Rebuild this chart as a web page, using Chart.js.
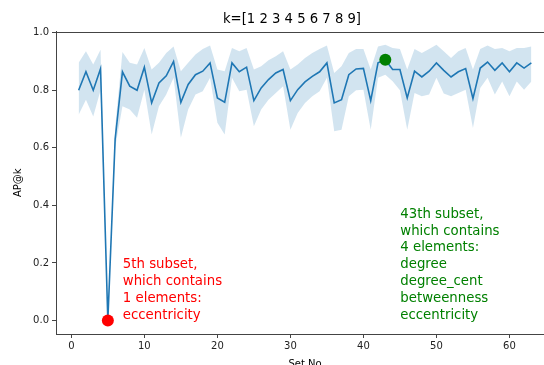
<!DOCTYPE html>
<html>
<head>
<meta charset="utf-8">
<script src="https://cdn.jsdelivr.net/npm/chart.js@4.4.1/dist/chart.umd.min.js"></script>
<style>
    html, body { margin: 0; padding: 0; background: #fff; overflow: hidden; }
    #wrap { width: 584px; height: 372px; }
</style>
</head>
<body>
<div id="wrap"><canvas id="apChart" width="584" height="372"></canvas></div>
<script>
// Subset index on the x axis
const setNo = [1, 2, 3, 4, 5, 6, 7, 8, 9, 10,
    11, 12, 13, 14, 15, 16, 17, 18, 19, 20,
    21, 22, 23, 24, 25, 26, 27, 28, 29, 30,
    31, 32, 33, 34, 35, 36, 37, 38, 39, 40,
    41, 42, 43, 44, 45, 46, 47, 48, 49, 50,
    51, 52, 53, 54, 55, 56, 57, 58, 59, 60,
    61, 62, 63];

// Mean AP@k per subset
const apMean = [0.80, 0.864, 0.80, 0.875, 0.0, 0.63, 0.864, 0.814, 0.80, 0.88,
    0.756, 0.825, 0.85, 0.90, 0.758, 0.82, 0.854, 0.866, 0.895, 0.773,
    0.758, 0.895, 0.864, 0.88, 0.764, 0.808, 0.837, 0.86, 0.872, 0.764,
    0.802, 0.829, 0.848, 0.864, 0.895, 0.756, 0.767, 0.854, 0.874, 0.876,
    0.764, 0.895, 0.906, 0.872, 0.872, 0.773, 0.866, 0.846, 0.866, 0.895,
    0.869, 0.846, 0.864, 0.875, 0.771, 0.877, 0.898, 0.869, 0.895, 0.864,
    0.895, 0.877, 0.895];

// Confidence band (upper / lower)
const apUpper = [0.895, 0.935, 0.889, 0.941, 0.0, 0.67, 0.933, 0.895, 0.889, 0.947,
    0.872, 0.895, 0.929, 0.952, 0.866, 0.895, 0.924, 0.943, 0.955, 0.872,
    0.866, 0.947, 0.935, 0.947, 0.872, 0.883, 0.904, 0.918, 0.935, 0.872,
    0.889, 0.912, 0.929, 0.943, 0.955, 0.86, 0.883, 0.929, 0.943, 0.943,
    0.872, 0.952, 0.958, 0.947, 0.943, 0.872, 0.943, 0.929, 0.943, 0.958,
    0.935, 0.912, 0.935, 0.947, 0.872, 0.943, 0.955, 0.943, 0.947, 0.935,
    0.947, 0.947, 0.952];

const apLower = [0.715, 0.767, 0.709, 0.80, 0.0, 0.60, 0.744, 0.733, 0.704, 0.802,
    0.646, 0.744, 0.785, 0.843, 0.635, 0.733, 0.785, 0.796, 0.843, 0.687,
    0.646, 0.843, 0.796, 0.802, 0.675, 0.733, 0.767, 0.79, 0.814, 0.663,
    0.721, 0.756, 0.779, 0.796, 0.843, 0.657, 0.663, 0.779, 0.80, 0.802,
    0.663, 0.843, 0.854, 0.831, 0.80, 0.663, 0.79, 0.779, 0.785, 0.843,
    0.789, 0.779, 0.79, 0.802, 0.669, 0.808, 0.843, 0.785, 0.83, 0.779,
    0.83, 0.802, 0.83];

const xTicks = [0, 10, 20, 30, 40, 50, 60];
const yTicks = [0.0, 0.2, 0.4, 0.6, 0.8, 1.0];

// Highlighted subsets
const worstSubset = [5, 0.0];
const bestSubset = [43, 0.906];

const chartTitle = 'k=[1 2 3 4 5 6 7 8 9]';
const worstNote = ['5th subset,', 'which contains', '1 elements:', 'eccentricity'];
const bestNote = ['43th subset,', 'which contains', '4 elements:', 'degree',
    'degree_cent', 'betweenness', 'eccentricity'];
const worstNoteAt = [7.05, 0];
const bestNoteAt = [45.05, 0];

const FONT = 'DejaVu Sans, sans-serif';
const toXY = (ys) => setNo.map((x, i) => ({ x: x, y: ys[i] }));

// title, top spine + text annotations
const extrasPlugin = {
    id: 'extras',
    afterDraw(chart) {
        const { ctx, chartArea, scales } = chart;
        ctx.save();
        ctx.strokeStyle = '#444';
        ctx.lineWidth = 1;
        ctx.beginPath();
        ctx.moveTo(chartArea.left, Math.round(chartArea.top) + 0.5);
        ctx.lineTo(chartArea.right, Math.round(chartArea.top) + 0.5);
        ctx.stroke();

        ctx.fillStyle = '#000';
        ctx.font = '13.2px ' + FONT;
        ctx.textAlign = 'center';
        ctx.textBaseline = 'middle';
        ctx.fillText(chartTitle, 292, 20);

        ctx.font = '13.3px ' + FONT;
        ctx.textAlign = 'left';
        const drawNote = (lines, at, color) => {
            const x = scales.x.getPixelForValue(at[0]);
            const yBottom = scales.y.getPixelForValue(at[1]) - 5.3;
            ctx.fillStyle = color;
            lines.forEach((line, i) => {
                ctx.fillText(line, x, yBottom - (lines.length - 1 - i) * 16.8);
            });
        };
        drawNote(worstNote, worstNoteAt, '#ff0000');
        drawNote(bestNote, bestNoteAt, '#008000');
        ctx.restore();
    }
};

function initChart() {
    const ctx = document.getElementById('apChart').getContext('2d');

    const data = {
        datasets: [
            {
                data: [{ x: worstSubset[0], y: worstSubset[1] }],
                backgroundColor: '#ff0000',
                pointRadius: 6,
                pointBorderWidth: 0,
                showLine: false,
                clip: false
            },
            {
                data: [{ x: bestSubset[0], y: bestSubset[1] }],
                backgroundColor: '#008000',
                pointRadius: 6,
                pointBorderWidth: 0,
                showLine: false,
                clip: false
            },
            {
                data: toXY(apMean),
                borderColor: '#1f77b4',
                borderWidth: 1.6,
                pointRadius: 0,
                fill: false
            },
            {
                data: toXY(apLower),
                borderWidth: 0,
                borderColor: 'rgba(0,0,0,0)',
                pointRadius: 0,
                fill: false
            },
            {
                data: toXY(apUpper),
                borderWidth: 0,
                borderColor: 'rgba(0,0,0,0)',
                backgroundColor: 'rgba(31,119,180,0.2)',
                pointRadius: 0,
                fill: 3
            }
        ]
    };

    const config = {
        type: 'line',
        data: data,
        plugins: [extrasPlugin],
        options: {
            responsive: false,
            animation: false,
            layout: { padding: { left: 0, right: 30, top: 31.5, bottom: 0 } },
            plugins: {
                legend: { display: false },
                tooltip: { enabled: false },
                title: { display: false }
            },
            scales: {
                x: {
                    type: 'linear',
                    min: -2.1,
                    max: 66.1,
                    afterFit: (scale) => { scale.height = 38; },
                    afterBuildTicks: (scale) => { scale.ticks = xTicks.map(v => ({ value: v })); },
                    grid: { drawOnChartArea: false, drawTicks: true, tickLength: 4, color: '#444' },
                    border: { display: true, color: '#444', width: 1 },
                    ticks: {
                        color: '#222',
                        padding: 2,
                        maxRotation: 0,
                        font: { family: FONT, size: 10 },
                        callback: (v) => String(v)
                    },
                    title: {
                        display: true,
                        text: 'Set No',
                        color: '#000',
                        font: { family: FONT, size: 10 },
                        padding: { top: 0, bottom: 2 }
                    }
                },
                y: {
                    min: -0.047,
                    max: 1.004,
                    afterFit: (scale) => { scale.width = 56; },
                    afterBuildTicks: (scale) => { scale.ticks = yTicks.map(v => ({ value: v })); },
                    grid: { drawOnChartArea: false, drawTicks: true, tickLength: 4, color: '#444' },
                    border: { display: true, color: '#444', width: 1 },
                    ticks: {
                        color: '#222',
                        padding: 3,
                        font: { family: FONT, size: 10 },
                        callback: (v) => v.toFixed(1)
                    },
                    title: {
                        display: true,
                        text: 'AP@k',
                        color: '#000',
                        font: { family: FONT, size: 10 },
                        padding: { top: 12, bottom: 0 }
                    }
                }
            }
        }
    };

    new Chart(ctx, config);
}

document.addEventListener('DOMContentLoaded', () => {
    initChart();
});
</script>
</body>
</html>
